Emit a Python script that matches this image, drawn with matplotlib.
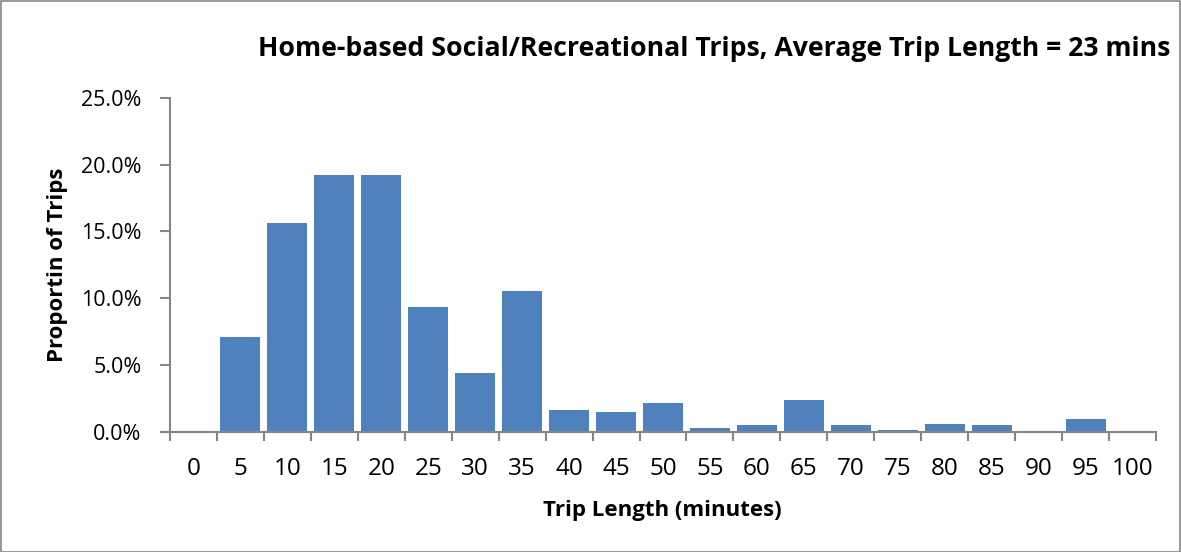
import matplotlib
matplotlib.use("Agg")
import matplotlib.pyplot as plt
from matplotlib.ticker import FixedLocator, FuncFormatter
from matplotlib.patches import Rectangle

plt.rcParams['font.family'] = ['Open Sans', 'DejaVu Sans']

categories = ['0', '5', '10', '15', '20', '25', '30', '35', '40', '45', '50',
              '55', '60', '65', '70', '75', '80', '85', '90', '95', '100']
proportions = [0.0, 7.08, 15.67, 19.26, 19.26, 9.32, 4.39, 10.52, 1.60, 1.44, 2.12,
               0.25, 0.47, 2.34, 0.47, 0.10, 0.55, 0.47, 0.0, 0.92, 0.0]
yticks = [0, 5, 10, 15, 20, 25]

title = 'Home-based Social/Recreational Trips, Average Trip Length = 23 mins'
xlabel = 'Trip Length (minutes)'
ylabel = 'Proportin of Trips'

W, H = 1181, 552
fig = plt.figure(figsize=(W / 100, H / 100), dpi=100)
ax_l, ax_r, ax_t, ax_b = 170, 1156, 98, 431.7
ax = fig.add_axes([ax_l / W, 1 - ax_b / H, (ax_r - ax_l) / W, (ax_b - ax_t) / H])

axis_col = '#868686'
bar_col = '#4F81BD'
x = list(range(len(categories)))
ax.bar(x, proportions, width=0.85, color=bar_col, zorder=2)

ax.set_xlim(-0.5, len(categories) - 0.5)
ax.set_ylim(0, 25)

for s in ['top', 'right']:
    ax.spines[s].set_visible(False)
for s in ['left', 'bottom']:
    ax.spines[s].set_color(axis_col)
    ax.spines[s].set_linewidth(1.5)

ax.yaxis.set_major_locator(FixedLocator(yticks))
ax.yaxis.set_major_formatter(FuncFormatter(lambda v, p: f'{v:.1f}%'))
ax.tick_params(axis='y', direction='out', length=7, width=1.5, color=axis_col,
               labelsize=15.5, pad=13.5, labelcolor='black')

# x: tick marks at category boundaries, labels centred on categories
ax.xaxis.set_major_locator(FixedLocator([i - 0.5 for i in range(len(categories) + 1)]))
ax.xaxis.set_major_formatter(FuncFormatter(lambda v, p: ''))
ax.tick_params(axis='x', which='major', direction='out', length=6.5, width=1.5, color=axis_col)
ax.xaxis.set_minor_locator(FixedLocator(x))
ax.set_xticklabels(categories, minor=True)
ax.tick_params(axis='x', which='minor', length=0, labelsize=17.5, pad=18, labelcolor='black')

fig.text(662 / W, 1 - 516 / H, xlabel, ha='center', va='baseline',
         fontsize=16, fontweight='bold')
fig.text(57 / W, 1 - 265 / H, ylabel, ha='center', va='center', rotation=90,
         fontsize=16, fontweight='bold')
fig.text(1170 / W, 1 - 56 / H, title, ha='right', va='baseline',
         fontsize=19.2, fontweight='bold')

fig.patches.append(Rectangle((0.5 / W, 0.5 / H), (W - 1.5) / W, (H - 1.5) / H,
                             transform=fig.transFigure, fill=False,
                             edgecolor=axis_col, linewidth=1.2))

fig.savefig('out.png', dpi=100)
